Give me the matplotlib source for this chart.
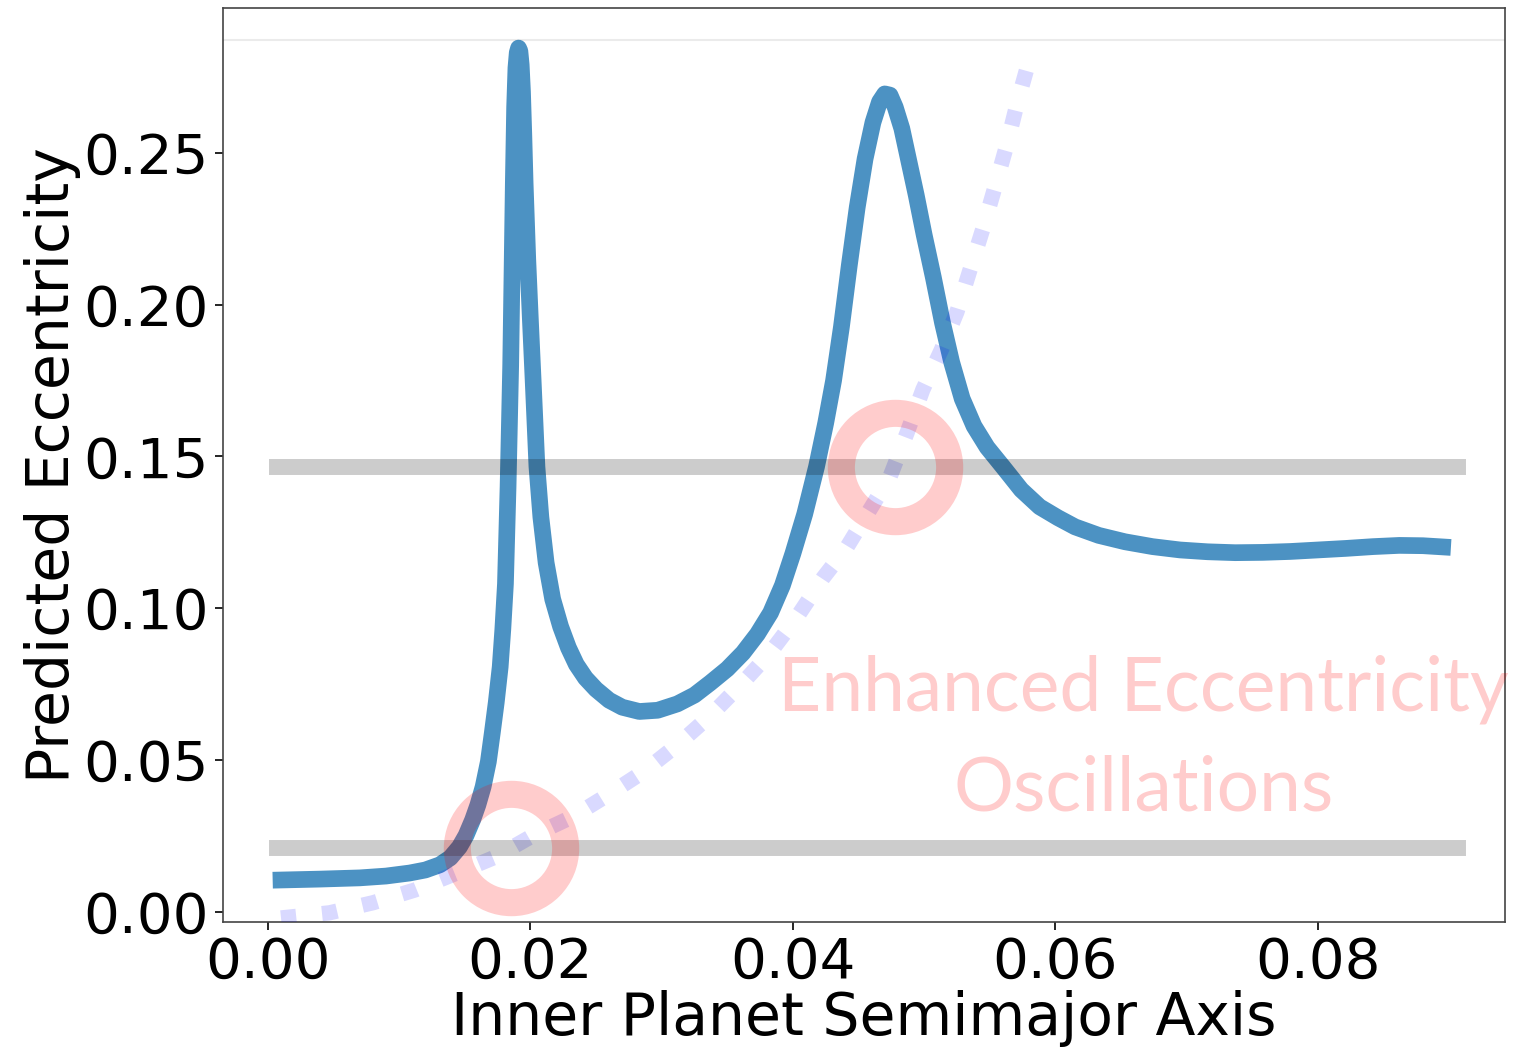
import matplotlib
matplotlib.use("Agg")
import matplotlib.pyplot as plt

# ---- data ----
blue_x = [0.0010, 0.0040, 0.0070, 0.0090, 0.0108, 0.0120, 0.0131, 0.0139, 0.0146, 0.0151,
          0.0156, 0.0160, 0.0164, 0.0168, 0.0171, 0.0174, 0.0177, 0.0179, 0.0181, 0.0183,
          0.0185, 0.0186, 0.0187, 0.0188, 0.0189, 0.0190, 0.0191, 0.0192, 0.0193, 0.0194,
          0.0195, 0.0196, 0.0198, 0.0200, 0.0202, 0.0205, 0.0208, 0.0212, 0.0217, 0.0223,
          0.0229, 0.0235, 0.0242, 0.0250, 0.0260, 0.0270, 0.0283, 0.0297, 0.0312, 0.0325,
          0.0337, 0.0350, 0.0362, 0.0373, 0.0383, 0.0392, 0.0400, 0.0409, 0.0418, 0.0425,
          0.0431, 0.0437, 0.0443, 0.0449, 0.0455, 0.0461, 0.0466, 0.0470, 0.0474, 0.0478,
          0.0483, 0.0488, 0.0494, 0.0500, 0.0507, 0.0514, 0.0521, 0.0529, 0.0538, 0.0548,
          0.0560, 0.0574, 0.0588, 0.0602, 0.0615, 0.0633, 0.0653, 0.0674, 0.0695, 0.0716,
          0.0737, 0.0758, 0.0779, 0.0800, 0.0821, 0.0842, 0.0862, 0.0880, 0.0895]
blue_y = [0.0105, 0.0108, 0.0112, 0.0118, 0.0128, 0.0138, 0.0155, 0.0178, 0.0214, 0.0252,
          0.0303, 0.0352, 0.0412, 0.0495, 0.0590, 0.0690, 0.0807, 0.0930, 0.1080, 0.1400,
          0.1800, 0.2100, 0.2400, 0.2650, 0.2780, 0.2830, 0.2845, 0.2835, 0.2790, 0.2700,
          0.2560, 0.2400, 0.2150, 0.1950, 0.1760, 0.1466, 0.1300, 0.1150, 0.1030, 0.0940,
          0.0870, 0.0815, 0.0770, 0.0733, 0.0697, 0.0674, 0.0660, 0.0664, 0.0685, 0.0714,
          0.0754, 0.0800, 0.0853, 0.0915, 0.0985, 0.1075, 0.1180, 0.1310, 0.1466, 0.1610,
          0.1750, 0.1927, 0.2130, 0.2320, 0.2480, 0.2600, 0.2668, 0.2694, 0.2690, 0.2650,
          0.2580, 0.2480, 0.2360, 0.2230, 0.2090, 0.1940, 0.1810, 0.1690, 0.1600, 0.1530,
          0.1466, 0.1390, 0.1334, 0.1298, 0.1268, 0.1240, 0.1219, 0.1203, 0.1192, 0.1186,
          0.1183, 0.1184, 0.1187, 0.1192, 0.1197, 0.1203, 0.1207, 0.1206, 0.1202]

dot_x = [0.0010, 0.0047, 0.0080, 0.0112, 0.0144, 0.0173, 0.0203, 0.0232, 0.0259, 0.0286,
         0.0312, 0.0337, 0.0361, 0.0382, 0.0403, 0.0423, 0.0441, 0.0458, 0.0474, 0.0487,
         0.0499, 0.0513, 0.0525, 0.0535, 0.0545, 0.0554, 0.0563, 0.0571, 0.0582]
dot_y = [-0.0020, -0.0003, 0.0030, 0.0072, 0.0128, 0.0180, 0.0254, 0.0313, 0.0385, 0.0461,
         0.0550, 0.0646, 0.0751, 0.0850, 0.0970, 0.1100, 0.1200, 0.1320, 0.1433, 0.1578,
         0.1720, 0.1850, 0.1976, 0.2115, 0.2253, 0.2388, 0.2526, 0.2665, 0.2835]

band_levels = [0.0211, 0.1466]
band_x = [0.0007, 0.0907]
top_level = 0.2872

circle_x = [0.0185, 0.0478]
circle_y = [0.0211, 0.1466]

xticks = [0.00, 0.02, 0.04, 0.06, 0.08]
xtick_labels = ["0.00", "0.02", "0.04", "0.06", "0.08"]
yticks = [0.00, 0.05, 0.10, 0.15, 0.20, 0.25]
ytick_labels = ["0.00", "0.05", "0.10", "0.15", "0.20", "0.25"]

annot_text = "Enhanced Eccentricity\nOscillations"

# ---- figure ----
plt.rcParams['font.family'] = ['DejaVu Sans']
fig = plt.figure(figsize=(15.16, 10.5), dpi=100)
ax = fig.add_axes([0.147, 0.122, 0.9927 - 0.147, 0.9924 - 0.122])

ax.plot(blue_x, blue_y, color='tab:blue', alpha=0.8, lw=12,
        solid_joinstyle='round', zorder=2)
ax.plot(dot_x, dot_y, color='blue', alpha=0.15, lw=11,
        linestyle=(0, (1, 1.7)), zorder=3)
for lv in band_levels:
    ax.plot(band_x, [lv, lv], color='black', alpha=0.2, lw=11.5, zorder=4)
ax.axhline(top_level, color='black', alpha=0.08, lw=1.5, zorder=1)
ax.plot(circle_x, circle_y, linestyle='none', marker='o', markersize=78,
        markerfacecolor='none', markeredgecolor='red', markeredgewidth=19.5,
        alpha=0.2, zorder=5)

ax.text(0.0667, 0.0570, annot_text, ha='center', va='center',
        fontsize=54, color='red', alpha=0.2, family=['Lato', 'DejaVu Sans'],
        linespacing=1.54, clip_on=False, zorder=6)

ax.set_xlim(-0.00343, 0.09425)
ax.set_ylim(-0.0033, 0.2977)
ax.set_xticks(xticks)
ax.set_xticklabels(xtick_labels)
ax.set_yticks(yticks)
ax.set_yticklabels(ytick_labels)
ax.tick_params(labelsize=40.5, length=6, width=1.2, colors='black', pad=4)
for s in ax.spines.values():
    s.set_color('#444444')
    s.set_linewidth(1.2)

ax.set_xlabel("Inner Planet Semimajor Axis", fontsize=42, labelpad=0)
ax.set_ylabel("Predicted Eccentricity", fontsize=42, labelpad=2)

fig.savefig("out.png", dpi=100)
